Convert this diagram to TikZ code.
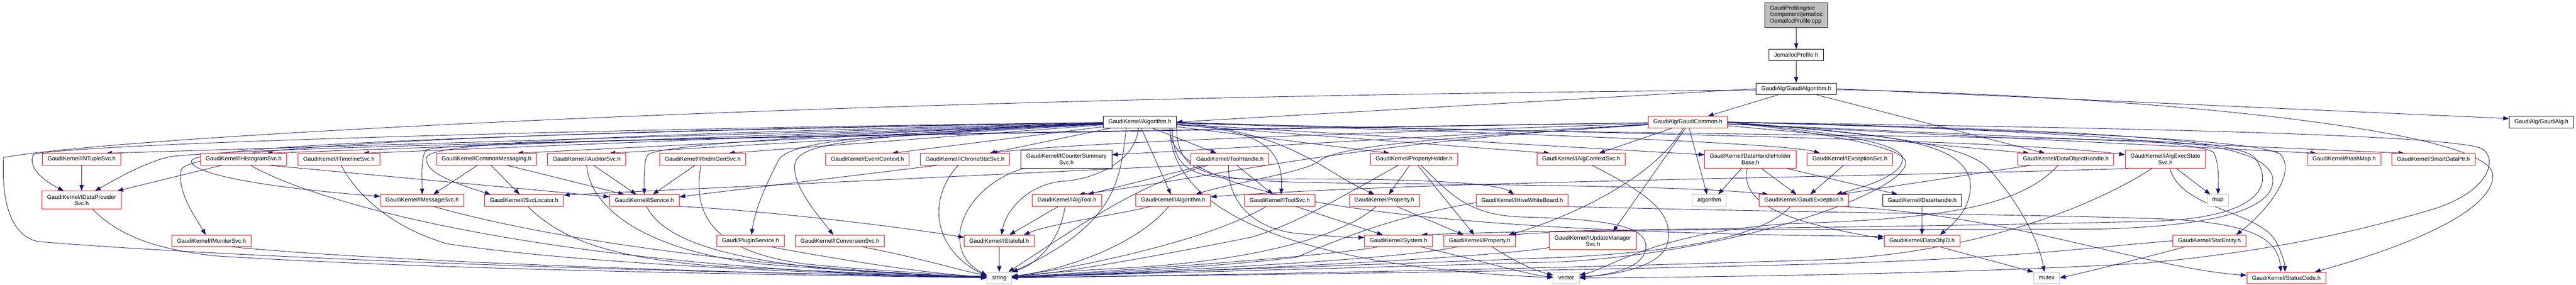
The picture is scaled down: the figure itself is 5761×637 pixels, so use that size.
\documentclass[tikz,border=0pt]{standalone}
\usepackage{fontspec}
\setmainfont{Liberation Sans}
\usetikzlibrary{arrows.meta,backgrounds}
\definecolor{edgeblue}{HTML}{191970}
\definecolor{boxred}{HTML}{FF0000}
\definecolor{boxgrey}{HTML}{BFBFBF}
\tikzset{
  box/.style={draw, fill=white, line width=1.1pt, font=\fontsize{12.9}{14.5}\selectfont,
    inner xsep=11.5pt, inner ysep=6pt, minimum height=25.7pt, align=center},
  redbox/.style={box, draw=boxred},
  blackbox/.style={box, draw=black},
  greybox/.style={box, draw=boxgrey},
  rootbox/.style={box, draw=black, fill=boxgrey, align=left, minimum height=55.5pt},
  tall/.style={minimum height=40.4pt},
  dep/.style={draw=edgeblue, line width=1pt, -{Triangle[length=13pt,width=9.5pt]}}
}
\begin{document}
\begin{tikzpicture}[x=1pt,y=-1pt]
\useasboundingbox (0,0) rectangle (5761,637);

\node[rootbox] (root) at (4017,33.5) {GaudiProfiling/src\\/component/jemalloc\\/JemallocProfile.cpp};
\node[blackbox] (jprof) at (4017,123) {JemallocProfile.h};
\node[blackbox] (galgo) at (4017,198.5) {GaudiAlg/GaudiAlgorithm.h};

\node[blackbox] (alg) at (2549,273) {GaudiKernel/Algorithm.h};
\node[redbox] (gcommon) at (3774.5,273) {GaudiAlg/GaudiCommon.h};
\node[blackbox] (galg) at (5683.5,273) {GaudiAlg/GaudiAlg.h};

\node[redbox] (ntuple) at (182.5,356) {GaudiKernel/INTupleSvc.h};
\node[redbox] (histo) at (544.8,356) {GaudiKernel/IHistogramSvc.h};
\node[redbox] (timeline) at (758,356) {GaudiKernel/ITimelineSvc.h};
\node[redbox] (commsg) at (1088,356) {GaudiKernel/CommonMessaging.h};
\node[redbox] (auditor) at (1312,356) {GaudiKernel/IAuditorSvc.h};
\node[redbox] (rndm) at (1571.6,356) {GaudiKernel/IRndmGenSvc.h};
\node[redbox] (evtctx) at (1940,356) {GaudiKernel/EventContext.h};
\node[redbox] (chrono) at (2158,356) {GaudiKernel/IChronoStatSvc.h};
\node[blackbox,tall] (counter) at (2385,356) {GaudiKernel/ICounterSummary\\Svc.h};
\node[redbox] (toolh) at (2750.5,356) {GaudiKernel/ToolHandle.h};
\node[redbox] (prophold) at (3162.5,356) {GaudiKernel/PropertyHolder.h};
\node[redbox] (algctx) at (3536,356) {GaudiKernel/IAlgContextSvc.h};
\node[redbox,tall] (dhhb) at (3914.5,356) {GaudiKernel/DataHandleHolder\\Base.h};
\node[redbox] (excsvc) at (4137,356) {GaudiKernel/IExceptionSvc.h};
\node[redbox] (dohandle) at (4620,356) {GaudiKernel/DataObjectHandle.h};
\node[redbox,tall] (execstate) at (4842.5,356) {GaudiKernel/IAlgExecState\\Svc.h};
\node[redbox] (hashmap) at (5242.5,356) {GaudiKernel/HashMap.h};
\node[redbox] (smartptr) at (5442,356) {GaudiKernel/SmartDataPtr.h};

\node[redbox,tall] (dataprov) at (182.5,447.5) {GaudiKernel/IDataProvider\\Svc.h};
\node[redbox] (msgsvc) at (944,448) {GaudiKernel/IMessageSvc.h};
\node[redbox] (svcloc) at (1172,448) {GaudiKernel/ISvcLocator.h};
\node[redbox] (iservice) at (1441,448) {GaudiKernel/IService.h};
\node[redbox] (algtool) at (2386,448) {GaudiKernel/IAlgTool.h};
\node[redbox] (ialg) at (2623.7,448) {GaudiKernel/IAlgorithm.h};
\node[redbox] (toolsvc) at (2862,448) {GaudiKernel/IToolSvc.h};
\node[redbox] (property) at (3096,448) {GaudiKernel/Property.h};
\node[redbox] (whiteboard) at (3404,448) {GaudiKernel/IHiveWhiteBoard.h};
\node[greybox] (algorithm) at (3822.5,448) {algorithm};
\node[redbox] (gexc) at (4034.5,448) {GaudiKernel/GaudiException.h};
\node[blackbox] (dhandle) at (4298.7,448) {GaudiKernel/DataHandle.h};
\node[greybox] (map) at (4960,448) {map};

\node[redbox] (monitor) at (473,538.5) {GaudiKernel/IMonitorSvc.h};
\node[redbox] (plugin) at (1678.5,538.5) {Gaudi/PluginService.h};
\node[redbox] (convsvc) at (1878.5,538.5) {GaudiKernel/IConversionSvc.h};
\node[redbox] (stateful) at (2234.5,538.5) {GaudiKernel/IStateful.h};
\node[redbox] (system) at (3127.5,538.5) {GaudiKernel/System.h};
\node[redbox] (iprop) at (3309,538.5) {GaudiKernel/IProperty.h};
\node[redbox,tall] (updmgr) at (3562.3,538.5) {GaudiKernel/IUpdateManager\\Svc.h};
\node[redbox] (objid) at (4298.3,538.5) {GaudiKernel/DataObjID.h};
\node[redbox] (statent) at (4941,538.5) {GaudiKernel/StatEntity.h};

\node[greybox] (string) at (2234.8,621.5) {string};
\node[greybox] (vector) at (3502.7,621.5) {vector};
\node[greybox] (mutex) at (4577,621.5) {mutex};
\node[redbox] (stcode) at (5113,621.5) {GaudiKernel/StatusCode.h};

\begin{scope}[on background layer]
\fill[white] (0,0) rectangle (5761,637);

\draw[dep] (root) -- (jprof);
\draw[dep] (jprof) -- (galgo);
\draw[dep] (galgo.west) -- (alg.east);
\draw[dep] ([xshift=-40pt]galgo.south) -- ([xshift=45pt]gcommon.north);
\draw[dep] (galgo.east) -- ([yshift=8pt]galg.west);
\draw[dep] ([xshift=45pt]galgo.south) -- ([xshift=-47pt]dohandle.north);
\draw[dep] ([yshift=-2pt]galgo.east) .. controls (4800,214) and (5575,290) .. (5575,392) .. controls (5575,480) and (5350,560) .. ([xshift=-25pt]stcode.north east);
\draw[dep] ([yshift=-3pt]galgo.west) .. controls (2000,215) and (300,300) .. (8,352) .. controls (4,430) and (15,525) .. (85,540) .. controls (500,575) and (1500,612) .. ([yshift=4pt]string.west);

\draw[dep] (alg) -- ([xshift=55pt]ntuple.north);
\draw[dep] (alg) -- ([xshift=52pt]histo.north);
\draw[dep] (alg) -- ([xshift=54pt]timeline.north);
\draw[dep] (alg) -- ([xshift=69pt]commsg.north);
\draw[dep] (alg) -- ([xshift=51pt]auditor.north);
\draw[dep] (alg) -- ([xshift=58pt]rndm.north);
\draw[dep] (alg) -- ([xshift=55pt]evtctx.north);
\draw[dep] (alg) -- ([xshift=55pt]chrono.north);
\draw[dep] ([xshift=28pt]alg.south) -- ([xshift=-30pt]toolh.north);
\draw[dep] (alg) -- ([xshift=-55pt]prophold.north);
\draw[dep] (alg) -- ([xshift=-70pt]algctx.north);
\draw[dep] (alg) -- ([yshift=10pt]dhhb.west);
\draw[dep] (alg) .. controls (3500,300) and (4000,322) .. ([xshift=-67pt]excsvc.north);
\draw[dep] (alg) .. controls (3500,295) and (4500,312) .. ([yshift=10pt]execstate.west);
\draw[dep] (alg) .. controls (1500,285) and (200,318) .. (75,345) .. controls (60,375) and (100,405) .. ([xshift=-40pt]dataprov.north);
\draw[dep] (alg) .. controls (1400,292) and (440,320) .. (428,360) .. controls (428,390) and (600,420) .. ([yshift=9pt]msgsvc.west);
\draw[dep] (alg) .. controls (1400,290) and (430,318) .. (405,380) .. controls (395,430) and (440,490) .. ([xshift=-13pt]monitor.north);
\draw[dep] (alg) .. controls (1500,298) and (975,315) .. (955,350) .. controls (945,380) and (1000,405) .. ([xshift=-75pt]svcloc.north);
\draw[dep] (alg) .. controls (2000,295) and (1500,318) .. (1450,345) .. controls (1440,352) and (1440,400) .. (iservice.north);
\draw[dep] (alg) .. controls (1900,300) and (1760,320) .. (1740,360) .. controls (1720,400) and (1690,460) .. ([xshift=2pt]plugin.north);
\draw[dep] (alg) .. controls (1900,305) and (1790,320) .. (1778,365) .. controls (1770,410) and (1820,470) .. ([xshift=-15pt]convsvc.north);
\draw[dep] ([xshift=-3pt]alg.south) .. controls (2540,360) and (2450,400) .. (2380,405) .. controls (2300,410) and (2250,470) .. ([xshift=5pt]stateful.north);
\draw[dep] ([xshift=3pt]alg.south) -- ([xshift=-5pt]ialg.north);
\draw[dep] (alg) .. controls (2800,290) and (2872,320) .. ([xshift=3pt]toolsvc.north);
\draw[dep] (alg.east) .. controls (2900,300) and (2950,380) .. ([xshift=-22pt]property.north);
\draw[dep] ([xshift=-10pt]alg.south east) .. controls (2625,400) and (2680,402) .. (2900,400) .. controls (3200,400) and (3350,410) .. ([xshift=-18pt]whiteboard.north);
\draw[dep] (alg.south east) .. controls (2635,400) and (2700,408) .. (3100,410) .. controls (3500,415) and (3800,418) .. ([xshift=-80pt]gexc.north);
\draw[dep] ([xshift=-15pt]alg.south east) .. controls (2610,450) and (3200,520) .. ([yshift=10pt]objid.west);
\draw[dep] ([xshift=-30pt]alg.south) .. controls (2505,400) and (2500,500) .. (string);
\draw[dep] ([xshift=-15pt]alg.south east) .. controls (2620,560) and (3200,610) .. (vector);
\draw[dep] (alg.east) .. controls (3400,300) and (4300,300) .. (4800,315) .. controls (5030,322) and (5100,370) .. (5080,420) .. controls (5060,470) and (4950,505) .. (4700,512) .. controls (4200,515) and (3600,508) .. ([xshift=-12pt]iprop.north east);

\draw[dep] (gcommon) .. controls (3000,300) and (2400,318) .. ([xshift=60pt]chrono.north);
\draw[dep] (gcommon) -- ([yshift=10pt]counter.east);
\draw[dep] ([xshift=-35pt]gcommon.south) -- ([xshift=40pt]algctx.north);
\draw[dep] (gcommon) -- ([xshift=-82pt]dohandle.north);
\draw[dep] (gcommon) -- ([xshift=-62pt]hashmap.north);
\draw[dep] (gcommon) -- ([xshift=-65pt]smartptr.north);
\draw[dep] (gcommon) .. controls (2500,295) and (700,318) .. (380,350) .. controls (320,365) and (260,400) .. ([xshift=30pt]dataprov.north);
\draw[dep] (gcommon) .. controls (2000,300) and (1000,315) .. (955,335) .. controls (940,345) and (944,400) .. (msgsvc.north);
\draw[dep] (gcommon) .. controls (3000,320) and (2700,400) .. ([xshift=27pt]algtool.north);
\draw[dep] (gcommon) .. controls (3300,305) and (3000,320) .. (2950,360) .. controls (2920,385) and (2750,410) .. ([xshift=50pt]ialg.north);
\draw[dep] ([xshift=-10pt]gcommon.south) .. controls (3700,400) and (3500,490) .. ([xshift=65pt]iprop.north);
\draw[dep] ([xshift=-5pt]gcommon.south) -- ([xshift=45pt]updmgr.north);
\draw[dep] ([xshift=3pt]gcommon.south) -- ([xshift=-5pt]algorithm.north);
\draw[dep] (gcommon.east) .. controls (4100,295) and (4255,320) .. (4255,355) .. controls (4255,385) and (4200,410) .. ([xshift=72pt]gexc.north);
\draw[dep] (gcommon.east) .. controls (4100,300) and (4265,330) .. (4262,365) .. controls (4255,430) and (3900,560) .. (3500,585) .. controls (3000,600) and (2500,612) .. (string);
\draw[dep] (gcommon.east) .. controls (4500,283) and (5420,295) .. (5545,330) .. controls (5585,345) and (5580,420) .. (5450,465) .. controls (5300,510) and (5100,560) .. (4800,588) .. controls (4400,612) and (3800,620) .. (vector);
\draw[dep] (gcommon.east) .. controls (4200,300) and (4400,320) .. (4450,380) .. controls (4520,460) and (4560,540) .. ([xshift=-5pt]mutex.north);
\draw[dep] (gcommon.east) .. controls (4400,285) and (4900,310) .. (4950,340) .. controls (4962,360) and (4962,400) .. (map.north);
\draw[dep] (gcommon.east) .. controls (4500,290) and (5050,310) .. (5100,345) .. controls (5140,390) and (5060,480) .. ([xshift=60pt]statent.north);
\draw[dep] (gcommon.east) .. controls (4200,300) and (4380,310) .. (4405,400) .. controls (4415,460) and (4370,500) .. ([xshift=40pt]objid.north);
\draw[dep] (gcommon.east) .. controls (4400,285) and (4980,300) .. (5040,350) .. controls (5090,410) and (5060,490) .. (4800,495) .. controls (4200,510) and (3500,512) .. ([xshift=-25pt]system.north east);

\draw[dep] (ntuple) -- (dataprov);
\draw[dep] ([xshift=-48pt]histo.south) -- ([xshift=80pt]dataprov.north);
\draw[dep] ([xshift=55pt]histo.south) -- ([yshift=8pt]iservice.west);
\draw[dep] ([xshift=15pt]histo.south) .. controls (700,450) and (1200,600) .. (string);
\draw[dep] ([xshift=5pt]timeline.south) .. controls (800,440) and (880,510) .. (1000,545) .. controls (1300,590) and (1800,610) .. (string);
\draw[dep] ([xshift=-20pt]commsg.south) -- ([xshift=25pt]msgsvc.north);
\draw[dep] ([xshift=10pt]commsg.south) -- ([xshift=-10pt]svcloc.north);
\draw[dep] ([xshift=45pt]commsg.south) -- ([xshift=-45pt]iservice.north);
\draw[dep] ([xshift=15pt]auditor.south) -- ([xshift=-18pt]iservice.north);
\draw[dep] (auditor.south) .. controls (1320,470) and (1450,560) .. (1700,590) .. controls (1950,610) and (2100,615) .. (string);
\draw[dep] ([xshift=-17pt]rndm.south) -- ([xshift=19pt]iservice.north);
\draw[dep] ([xshift=-4pt]rndm.south) .. controls (1550,470) and (1580,560) .. (1800,590) .. controls (1950,605) and (2100,612) .. (string);
\draw[dep] ([xshift=-60pt]chrono.south) -- ([yshift=8pt]iservice.east);
\draw[dep] ([xshift=-15pt]chrono.south) .. controls (2070,450) and (2090,560) .. ([yshift=4pt]string.west);
\draw[dep] ([xshift=5pt]counter.south west) .. controls (2150,420) and (2100,560) .. ([yshift=6pt]string.west);
\draw[dep] ([xshift=-58pt]toolh.south) -- ([xshift=47pt]algtool.north);
\draw[dep] ([xshift=-48pt]toolh.south) .. controls (2550,410) and (2420,500) .. (string);
\draw[dep] ([xshift=15pt]toolh.south) -- ([xshift=-15pt]toolsvc.north);
\draw[dep] (toolh.south west) -- ([yshift=12pt]svcloc.east);
\draw[dep] ([xshift=-3pt]toolh.south) .. controls (2745,450) and (2800,510) .. (2900,522) .. controls (2980,528) and (3020,532) .. ([yshift=8pt]system.west);
\draw[dep] ([xshift=-10pt]prophold.south) -- ([xshift=10pt]property.north);
\draw[dep] ([xshift=8pt]prophold.south) -- ([xshift=-12pt]iprop.north);
\draw[dep] ([xshift=-35pt]prophold.south) .. controls (3000,440) and (2900,500) .. (2800,530) .. controls (2500,590) and (2350,612) .. (string);
\draw[dep] ([xshift=15pt]prophold.south) .. controls (3240,430) and (3280,480) .. (3400,485) .. controls (3620,490) and (3690,510) .. (3680,560) .. controls (3670,600) and (3600,615) .. (vector);
\draw[dep] ([xshift=24pt]algctx.south) .. controls (3700,440) and (3740,480) .. (3730,540) .. controls (3720,600) and (3600,615) .. (vector);
\draw[dep] ([xshift=-20pt]dhhb.south) -- ([xshift=20pt]algorithm.north);
\draw[dep] ([xshift=25pt]dhhb.south) -- ([xshift=-17pt]gexc.north);
\draw[dep] ([xshift=82pt]dhhb.south) -- ([xshift=-55pt]dhandle.north);
\draw[dep] ([xshift=-7pt]dhhb.south) .. controls (3895,440) and (3950,490) .. ([yshift=5pt]objid.west);
\draw[dep] ([xshift=-14pt]excsvc.south) -- ([xshift=14pt]gexc.north);
\draw[dep] ([xshift=-77pt]dohandle.south) -- ([xshift=-20pt]gexc.north east);
\draw[dep] ([xshift=-17pt]dohandle.south) .. controls (4520,460) and (4350,490) .. (4000,500) .. controls (3700,520) and (3600,600) .. (vector);
\draw[dep] ([xshift=25pt]execstate.south) -- ([xshift=-17pt]map.north);
\draw[dep] ([xshift=10pt]execstate.south west) .. controls (4000,400) and (3200,405) .. ([yshift=8pt]ialg.east);
\draw[dep] ([xshift=10pt]execstate.south) .. controls (4880,470) and (5050,470) .. (5090,540) .. controls (5105,570) and (5110,590) .. ([xshift=-3pt]stcode.north);
\draw[dep] ([xshift=-30pt]execstate.south) .. controls (4700,450) and (4450,560) .. (4100,580) .. controls (3300,606) and (2600,616) .. (string);

\draw[dep] ([xshift=25pt]dataprov.south) .. controls (260,520) and (330,555) .. (480,572) .. controls (1000,605) and (1800,615) .. (string);
\draw[dep] ([xshift=25pt]msgsvc.south) .. controls (1100,500) and (1500,590) .. (string);
\draw[dep] ([xshift=8pt]svcloc.south) .. controls (1250,530) and (1350,575) .. (1600,595) .. controls (1900,610) and (2100,616) .. (string);
\draw[dep] ([xshift=5pt]iservice.south) .. controls (1480,530) and (1600,580) .. (1900,605) .. controls (2050,614) and (2150,618) .. (string);
\draw[dep] (iservice.south east) .. controls (1700,470) and (2000,505) .. ([yshift=8pt]stateful.west);
\draw[dep] ([xshift=-19pt]algtool.south) -- ([xshift=23pt]stateful.north);
\draw[dep] ([xshift=-4pt]algtool.south) .. controls (2370,540) and (2320,590) .. (string.north east);
\draw[dep] ([xshift=-50pt]ialg.south) .. controls (2500,480) and (2350,500) .. ([xshift=55pt]stateful.north);
\draw[dep] ([xshift=-10pt]ialg.south) .. controls (2550,540) and (2400,600) .. (string);
\draw[dep] ([xshift=35pt]toolsvc.south) -- ([xshift=-35pt]system.north);
\draw[dep] ([xshift=-30pt]toolsvc.south) .. controls (2700,540) and (2400,600) .. (string);
\draw[dep] ([xshift=27pt]property.south) -- ([xshift=-36pt]iprop.north);
\draw[dep] ([xshift=-18pt]property.south) .. controls (3000,530) and (2800,585) .. (2500,600) .. controls (2400,605) and (2320,612) .. (string);
\draw[dep] ([yshift=-5pt]whiteboard.west) .. controls (3150,480) and (3050,510) .. (2900,575) .. controls (2700,600) and (2400,612) .. (string);
\draw[dep] ([xshift=-15pt]whiteboard.south east) .. controls (4000,475) and (4600,480) .. (4850,490) .. controls (5050,500) and (5095,540) .. ([xshift=-12pt]stcode.north);
\draw[dep] ([xshift=-30pt]gexc.south) .. controls (3950,520) and (3800,560) .. (3500,575) .. controls (3000,595) and (2500,610) .. (string);
\draw[dep] ([xshift=-20pt]gexc.south east) .. controls (4500,480) and (4800,600) .. ([yshift=6pt]stcode.west);
\draw[dep] (dhandle) -- (objid);

\draw[dep] ([xshift=45pt]monitor.south) .. controls (800,580) and (1500,608) .. (string);
\draw[dep] ([xshift=45pt]plugin.south) .. controls (1850,575) and (2050,610) .. (string);
\draw[dep] ([xshift=50pt]convsvc.south) .. controls (2050,575) and (2150,605) .. (string);
\draw[dep] (stateful) -- (string);
\draw[dep] ([xshift=-45pt]system.south) .. controls (2950,575) and (2500,605) .. (string);
\draw[dep] ([xshift=50pt]system.south) .. controls (3300,580) and (3420,615) .. (vector);
\draw[dep] ([xshift=-50pt]iprop.south) .. controls (3100,585) and (2500,610) .. (string);
\draw[dep] ([xshift=28pt]iprop.south) .. controls (3380,580) and (3430,605) .. (vector);
\draw[dep] ([yshift=-15pt]updmgr.west) .. controls (3300,580) and (2600,610) .. (string);
\draw[dep] ([xshift=40pt]objid.south) -- (mutex.north west);
\draw[dep] ([xshift=-55pt]statent.south) .. controls (4800,575) and (4700,600) .. (mutex.east);
\draw[dep] (statent.west) .. controls (4700,550) and (4500,580) .. (4000,592) .. controls (3300,610) and (2600,616) .. (string);
\end{scope}
\end{tikzpicture}
\end{document}
